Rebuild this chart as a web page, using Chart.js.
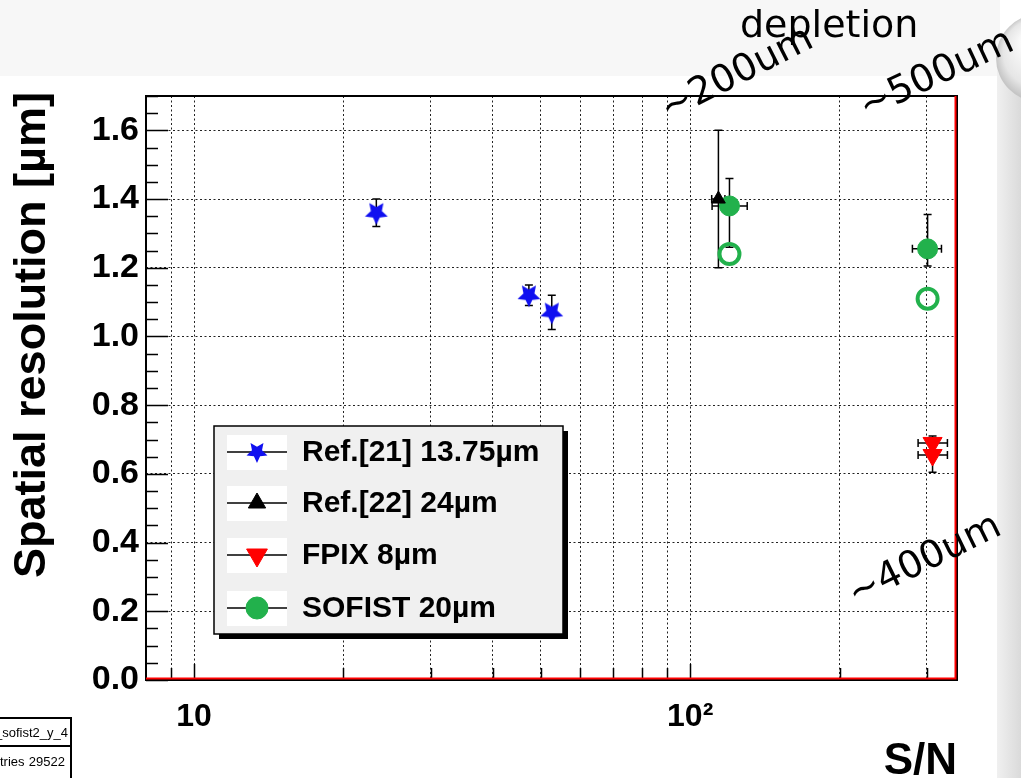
<!DOCTYPE html>
<html><head><meta charset="utf-8">
<script src="https://cdn.jsdelivr.net/npm/chart.js@4/dist/chart.umd.min.js"></script>
<style>html,body{margin:0;padding:0;background:#fff;overflow:hidden}</style>
</head><body>
<canvas id="c" width="1021" height="778"></canvas>
<script>
// ---- data ----
const ref21X = [23.3, 47.3, 52.6];
const ref21Y = [1.36, 1.12, 1.07];
const ref21ErrY = [0.04, 0.03, 0.05];

const ref22X = [114];
const ref22Y = [1.40];
const ref22ErrX = [3.5];
const ref22ErrY = [0.20];

const fpixX = [308, 308];
const fpixY = [0.69, 0.655];
const fpixErrXLo = [20, 20];
const fpixErrXHi = [22, 22];
const fpixErrY = [0.02, 0.05];

const sofistX = [120, 301];
const sofistY = [1.38, 1.255];
const sofistErrXLo = [9.3, 20.5];
const sofistErrXHi = [10.3, 20];
const sofistErrYHi = [0.08, 0.10];
const sofistErrYLo = [0.12, 0.05];

const sofistOpenX = [120, 301];
const sofistOpenY = [1.24, 1.11];

const xTickValues = [9, 10, 20, 30, 40, 50, 60, 70, 80, 90, 100, 200, 300];
const xTickLabels = {10: '10', 100: '10\u00B2'};
const legendLabels = ['Ref.[21] 13.75\u00B5m', 'Ref.[22] 24\u00B5m', 'FPIX 8\u00B5m', 'SOFIST 20\u00B5m'];
const yTitle = 'Spatial resolution [\u00B5m]';
const xTitle = 'S/N';
const notes = [
  {text: 'depletion', x: 740, y: 37, angle: 0, w: 180},
  {text: '~200um', x: 668, y: 121, angle: -27, w: 174},
  {text: '~500um', x: 866, y: 119, angle: -25, w: 168},
  {text: '~400um', x: 855, y: 606, angle: -26, w: 165}
];

// ---- marker images ----
function starCanvas(r, color) {
  const s = Math.ceil(r * 2 + 2), c = document.createElement('canvas');
  c.width = s; c.height = s;
  const g = c.getContext('2d');
  g.fillStyle = color; g.beginPath();
  for (let i = 0; i < 10; i++) {
    const a = Math.PI / 2 + i * Math.PI / 5;
    const rr = i % 2 ? r * 0.48 : r;
    g.lineTo(s / 2 + rr * Math.cos(a), s / 2 + rr * Math.sin(a));
  }
  g.closePath(); g.fill();
  return c;
}
const starImg = starCanvas(12, '#1010f0');
const starImgLeg = starCanvas(11, '#1010f0');

function pts(xs, ys) { return xs.map((x, i) => ({x: x, y: ys[i]})); }

const datasets = [
  {label: legendLabels[0], data: pts(ref21X, ref21Y), pointStyle: starImg, pointRadius: 12,
   errors: ref21X.map((x, i) => ({yLo: ref21ErrY[i], yHi: ref21ErrY[i]})),
   legendStyle: {pointStyle: starImgLeg, radius: 11, color: '#1010f0'}},
  {label: legendLabels[1], data: pts(ref22X, ref22Y), pointStyle: 'triangle', pointRadius: 8,
   backgroundColor: '#000', borderColor: '#000', borderWidth: 1,
   errors: ref22X.map((x, i) => ({xLo: ref22ErrX[i], xHi: ref22ErrX[i], yLo: ref22ErrY[i], yHi: ref22ErrY[i]})),
   legendStyle: {pointStyle: 'triangle', radius: 10, color: '#000'}},
  {label: legendLabels[2], data: pts(fpixX, fpixY), pointStyle: 'triangle', rotation: 180, pointRadius: 11,
   backgroundColor: '#ff0000', borderColor: '#ff0000', borderWidth: 1,
   errors: fpixX.map((x, i) => ({xLo: fpixErrXLo[i], xHi: fpixErrXHi[i], yLo: fpixErrY[i], yHi: fpixErrY[i]})),
   legendStyle: {pointStyle: 'triangle', rotation: 180, radius: 12, color: '#ff0000'}},
  {label: legendLabels[3], data: pts(sofistX, sofistY), pointStyle: 'circle', pointRadius: 10,
   backgroundColor: '#22b14c', borderColor: '#22b14c', borderWidth: 1,
   errors: sofistX.map((x, i) => ({xLo: sofistErrXLo[i], xHi: sofistErrXHi[i], yLo: sofistErrYLo[i], yHi: sofistErrYHi[i]})),
   legendStyle: {pointStyle: 'circle', radius: 11, color: '#22b14c'}},
  {label: 'open', data: pts(sofistOpenX, sofistOpenY), pointStyle: 'circle', pointRadius: 10,
   backgroundColor: 'rgba(255,255,255,0)', borderColor: '#22b14c', borderWidth: 4}
];
datasets.forEach(d => { d.showLine = false; d.pointHoverRadius = d.pointRadius; if (!d.backgroundColor) { d.backgroundColor = '#1010f0'; d.borderColor = '#1010f0'; } });

const CL = 146, CR = 957, CT = 96, CB = 680;

const bgPlugin = {
  id: 'bg',
  beforeDraw(chart) {
    const ctx = chart.ctx;
    ctx.save();
    ctx.fillStyle = '#ffffff'; ctx.fillRect(0, 0, 1021, 778);
    ctx.fillStyle = '#f7f7f7'; ctx.fillRect(0, 0, 1000, 76);
    // right strip
    const g = ctx.createLinearGradient(997, 0, 1021, 0);
    g.addColorStop(0, '#f0f0f0'); g.addColorStop(1, '#dadada');
    ctx.fillStyle = g; ctx.fillRect(997, 60, 24, 718);
    // sphere
    const rg = ctx.createRadialGradient(1030, 40, 5, 1040, 58, 46);
    rg.addColorStop(0, '#ffffff'); rg.addColorStop(0.7, '#e6e6e6'); rg.addColorStop(1, '#bdbdbd');
    ctx.fillStyle = rg; ctx.beginPath(); ctx.arc(1040, 58, 44, 0, Math.PI * 2); ctx.fill();
    ctx.fillStyle = '#ffffff'; ctx.fillRect(0, 76, 997, 702);
    ctx.restore();
  },
  beforeDatasetsDraw(chart) {
    const ctx = chart.ctx, xs = chart.scales.x, ys = chart.scales.y;
    ctx.save();
    ctx.strokeStyle = '#000'; ctx.lineWidth = 1.5;
    chart.data.datasets.forEach(ds => {
      if (!ds.errors) return;
      ds.data.forEach((p, i) => {
        const e = ds.errors[i];
        const px = xs.getPixelForValue(p.x), py = ys.getPixelForValue(p.y);
        ctx.beginPath();
        if (e.yHi || e.yLo) {
          const t = ys.getPixelForValue(p.y + (e.yHi || 0)), b = ys.getPixelForValue(p.y - (e.yLo || 0));
          ctx.moveTo(px, t); ctx.lineTo(px, b);
          ctx.moveTo(px - 4, t); ctx.lineTo(px + 4, t);
          ctx.moveTo(px - 4, b); ctx.lineTo(px + 4, b);
        }
        if (e.xHi || e.xLo) {
          const l = xs.getPixelForValue(p.x - (e.xLo || 0)), r = xs.getPixelForValue(p.x + (e.xHi || 0));
          ctx.moveTo(l, py); ctx.lineTo(r, py);
          ctx.moveTo(l, py - 4); ctx.lineTo(l, py + 4);
          ctx.moveTo(r, py - 4); ctx.lineTo(r, py + 4);
        }
        ctx.stroke();
      });
    });
    ctx.restore();
  },
  afterDraw(chart) {
    const ctx = chart.ctx, xs = chart.scales.x, ys = chart.scales.y, a = chart.chartArea;
    ctx.save();
    // frame
    ctx.strokeStyle = '#000'; ctx.lineWidth = 2;
    ctx.strokeRect(a.left, a.top, a.right - a.left, a.bottom - a.top);
    // ticks on left axis (major 0.2, minor 0.05)
    ctx.lineWidth = 1.5; ctx.beginPath();
    for (let k = 0; k <= 34; k++) {
      const v = k * 0.05, py = Math.round(ys.getPixelForValue(v)) + 0.5;
      if (py < a.top) continue;
      const len = (k % 4 === 0) ? 22 : 12;
      ctx.moveTo(a.left, py); ctx.lineTo(a.left + len, py);
    }
    // ticks on bottom axis
    xTickValues.forEach(v => {
      const px = Math.round(xs.getPixelForValue(v)) + 0.5;
      const len = (v === 10 || v === 100) ? 16 : 12;
      ctx.moveTo(px, a.bottom); ctx.lineTo(px, a.bottom - len);
    });
    ctx.stroke();
    // red inner lines
    ctx.strokeStyle = '#ff0000'; ctx.lineWidth = 2;
    ctx.beginPath();
    ctx.moveTo(a.left, a.bottom - 1.5); ctx.lineTo(a.right - 1.5, a.bottom - 1.5); ctx.lineTo(a.right - 1.5, a.top);
    ctx.stroke();

    // axis titles
    ctx.fillStyle = '#000';
    ctx.font = 'bold 45px "Liberation Sans", Arial, sans-serif';
    ctx.save(); ctx.translate(45, 92); ctx.rotate(-Math.PI / 2);
    ctx.textAlign = 'right'; ctx.textBaseline = 'alphabetic'; ctx.fillText(yTitle, 0, 0); ctx.restore();
    ctx.font = 'bold 44px "Liberation Sans", Arial, sans-serif';
    ctx.textAlign = 'right'; ctx.textBaseline = 'alphabetic'; ctx.fillText(xTitle, 957, 774);

    // legend
    const LX = 214, LY = 426, LW = 349, LH = 208;
    ctx.fillStyle = '#000'; ctx.fillRect(LX + 5, LY + 5, LW, LH);
    ctx.fillStyle = '#f0f0f0'; ctx.fillRect(LX, LY, LW, LH);
    ctx.strokeStyle = '#000'; ctx.lineWidth = 1.5; ctx.strokeRect(LX, LY, LW, LH);
    const rowsY = [452, 503, 555, 608];
    chart.data.datasets.slice(0, 4).forEach((ds, i) => {
      const y = rowsY[i];
      ctx.fillStyle = '#fff'; ctx.fillRect(227, y - 17, 60, 35);
      ctx.strokeStyle = '#000'; ctx.lineWidth = 1.5;
      ctx.beginPath(); ctx.moveTo(227, y); ctx.lineTo(287, y); ctx.stroke();
      const ls = ds.legendStyle;
      ctx.fillStyle = ls.color; ctx.strokeStyle = ls.color; ctx.lineWidth = 1;
      Chart.helpers.drawPoint(ctx, {pointStyle: ls.pointStyle, radius: ls.radius, rotation: ls.rotation || 0, borderWidth: 1}, 257, y);
      ctx.fillStyle = '#000';
      ctx.font = 'bold 30px "Liberation Sans", Arial, sans-serif';
      ctx.textAlign = 'left'; ctx.textBaseline = 'middle';
      ctx.fillText(ds.label, 302, y + 1);
    });

    // annotations
    ctx.fillStyle = '#000';
    ctx.font = '38px "DejaVu Sans", sans-serif';
    ctx.textAlign = 'left'; ctx.textBaseline = 'alphabetic';
    notes.forEach(n => {
      ctx.save(); ctx.translate(n.x, n.y); ctx.rotate(n.angle * Math.PI / 180);
      ctx.fillText(n.text, 0, 0, n.w); ctx.restore();
    });

    // stats box (partial, bottom-left)
    ctx.fillStyle = '#fff'; ctx.fillRect(-2, 718, 73, 64);
    ctx.strokeStyle = '#000'; ctx.lineWidth = 2; ctx.strokeRect(-2, 718, 73, 64);
    ctx.beginPath(); ctx.moveTo(0, 746); ctx.lineTo(71, 746); ctx.stroke();
    ctx.fillStyle = '#000'; ctx.font = '13px "Liberation Sans", Arial, sans-serif';
    ctx.textAlign = 'right'; ctx.textBaseline = 'middle';
    ctx.fillText('_sofist2_y_4', 68, 733);
    ctx.fillText('29522', 65, 762);
    ctx.textAlign = 'left'; ctx.fillText('tries', 0, 762);
    ctx.restore();
  }
};

new Chart(document.getElementById('c'), {
  type: 'scatter',
  data: {datasets: datasets},
  plugins: [bgPlugin],
  options: {
    responsive: false, animation: false,
    layout: {padding: {left: 0, top: CT, right: 1021 - CR, bottom: 0}},
    plugins: {legend: {display: false}, tooltip: {enabled: false}},
    scales: {
      x: {
        type: 'logarithmic', min: 8, max: 345,
        afterBuildTicks(s) { s.ticks = xTickValues.map(v => ({value: v})); },
        afterFit(s) { s.height = 778 - CB; },
        ticks: {autoSkip: false, maxRotation: 0, minRotation: 0, padding: 18, color: '#000',
          font: {family: '"Liberation Sans", Arial, sans-serif', size: 32, weight: 'bold'},
          callback(v) { return xTickLabels[v] || ''; }},
        grid: {drawTicks: false, color: '#222', lineWidth: 1},
        border: {display: false, dash: [2, 2.5]}
      },
      y: {
        min: 0, max: 1.7,
        afterFit(s) { s.width = CL; },
        ticks: {stepSize: 0.2, includeBounds: false, padding: 7, color: '#000',
          font: {family: '"Liberation Sans", Arial, sans-serif', size: 34, weight: 'bold'},
          callback(v) { return Number(v).toFixed(1); }},
        grid: {drawTicks: false, color: '#222', lineWidth: 1},
        border: {display: false, dash: [2, 2.5]}
      }
    }
  }
});
</script>
</body></html>
